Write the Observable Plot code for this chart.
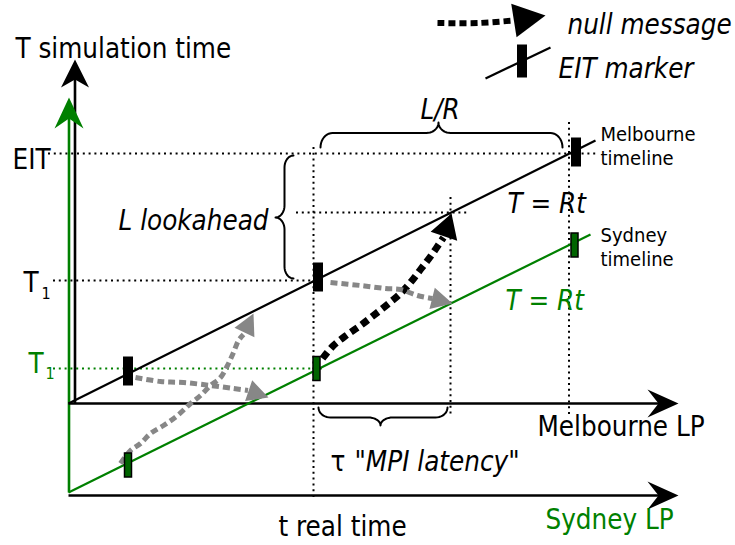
<!DOCTYPE html>
<html><head><meta charset="utf-8">
<script src="https://cdn.jsdelivr.net/npm/d3@7"></script>
<script src="https://cdn.jsdelivr.net/npm/@observablehq/plot@0.6"></script>
<style>body{margin:0;background:#fff;} svg{display:block}</style>
</head><body><div id="chart"></div>
<script>
// ---- data (t = real time, S = simulation time; origin = Melbourne LP origin) ----
const axisName = ["Melbourne T", "Sydney T", "Melbourne LP", "Sydney LP"];
const axisFromT = [6.5, 0.5, 0, 0];
const axisFromS = [0, -89, 0, -92];
const axisTipT = [6.5, 0.5, 610, 610];
const axisTipS = [344, 306, 0, -92];

const timelineName = ["Melbourne", "Sydney"];
const timelineT0 = [0, 0];
const timelineS0 = [0, -89];
const timelineT1 = [527, 522];
const timelineS1 = [263, 169];

const markerLP = ["Melbourne", "Melbourne", "Melbourne", "Sydney", "Sydney", "Sydney"];
const markerT = [60, 250, 508, 60, 248.5, 506.5];
const markerS = [32, 126, 251, -62, 34.5, 158];

// dotted guides
const hGuideName = ["EIT", "T1 Melbourne", "T1 Sydney", "lookahead"];
const hGuideS = [250, 123, 35, 191];
const hGuideFrom = [-20, -15, -15, 228];
const hGuideTo = [529, 245, 257, 399];
const vGuideT = [245, 382, 500.5];
const vGuideFrom = [256, 206, 281];
const vGuideTo = [-95, -12, -12];

// braces: along-axis ends, end level, spine level, cusp (along, level)
const braceName = ["L/R", "L lookahead", "tau"];
const braceA0 = [252, 125, 250];
const braceA1 = [494, 248, 379];
const braceEnd = [256, 225, -4];
const braceSpine = [270.5, 216, -14];
const braceCuspA = [370, 186, 312];
const braceCusp = [281, 207, -22];

// null messages (last point = arrow tip)
const msgBlackT = [254, 265, 279, 292, 305, 319, 332, 342, 352, 362, 375, 383];
const msgBlackS = [45, 58, 69, 78, 88, 99, 110, 121, 134, 147, 166, 190];
const msgGrayAT = [67, 92, 115, 142, 165, 179.5, 200];
const msgGrayAS = [26, 22, 21, 18, 15, 13, 6];
const msgGrayBT = [52, 62, 72, 82, 95, 109, 122, 132, 142, 152, 159, 165, 170, 175, 185];
const msgGrayBS = [-60, -47, -40, -30, -22, -12, 0, 8, 18, 26, 38, 51, 63, 69, 90];
const msgGrayCT = [262, 292, 317, 332, 349, 364, 384];
const msgGrayCS = [121, 118, 115, 114, 108, 105, 100];
const msgLegendT = [369, 410, 445.5, 477];
const msgLegendS = [380.5, 380.5, 383, 388];

// legend EIT marker
const legLineT = [417, 482];
const legLineS = [325, 356];
const legMarkerT = [454];
const legMarkerS = [342];

// labels
const plainText = ["T simulation time", "EIT", "T", "Melbourne LP", "t real time", "τ"];
const plainT = [-53, -56, -45, 469, 210, 262];
const plainS = [346, 235, 112, -32, -132, -67];
const italicText = ["null message", "EIT marker", "L/R", "L lookahead", "T = Rt", "\"MPI latency\""];
const italicT = [499, 490, 352, 50, 439, 286];
const italicS = [370, 326, 285, 174, 191, -67];
const greenText = ["T", "Sydney LP"];
const greenT = [-40, 477];
const greenS = [31, -125];
const greenItalicText = ["T = Rt"];
const greenItalicT = [437];
const greenItalicS = [94];
const smallText = ["Melbourne\ntimeline", "Sydney\ntimeline"];
const smallT = [532, 532];
const smallS = [239, 138];
const subText = ["1", "1"];
const subT = [-27, -23];
const subS = [105, 25];
const subColor = ["black", "green"];

// ---- styles ----
const FONT = "'DejaVu Sans Condensed', 'DejaVu Sans', sans-serif";
const GREEN = "#008000", GRAY = "#878787", DKGREEN = "#006400";
const FS = 27.5;

// ---- helpers ----
function head(id, tip, from, len, hw, notch) {
  const dx = tip[0] - from[0], dy = tip[1] - from[1], L = Math.hypot(dx, dy);
  const ux = dx / L, uy = dy / L, px = -uy, py = ux;
  const bx = tip[0] - ux * len, by = tip[1] - uy * len;
  const nx = tip[0] - ux * (len - notch), ny = tip[1] - uy * (len - notch);
  return [
    {id, t: tip[0], s: tip[1]},
    {id, t: bx + px * hw, s: by + py * hw},
    {id, t: nx, s: ny},
    {id, t: bx - px * hw, s: by - py * hw}
  ];
}
function braceLine(i) {
  const a0 = braceA0[i], a1 = braceA1[i], e = braceEnd[i], f = braceSpine[i], ac = braceCuspA[i], c = braceCusp[i];
  const r = 12, n = 10, pts = [];
  const dir = Math.sign(a1 - a0);
  for (let k = 0; k <= n; k++) { const th = k / n * Math.PI / 2; pts.push([a0 + dir * (r - r * Math.cos(th)), e + (f - e) * Math.sin(th)]); }
  for (let k = 0; k <= n; k++) { const th = k / n * Math.PI / 2; pts.push([ac - dir * r + dir * r * Math.sin(th), c + (f - c) * Math.cos(th)]); }
  for (let k = n; k >= 0; k--) { const th = k / n * Math.PI / 2; pts.push([ac + dir * r - dir * r * Math.sin(th), c + (f - c) * Math.cos(th)]); }
  for (let k = n; k >= 0; k--) { const th = k / n * Math.PI / 2; pts.push([a1 - dir * (r - r * Math.cos(th)), e + (f - e) * Math.sin(th)]); }
  const vertical = braceName[i] === "L lookahead";
  return pts.map(([a, l]) => vertical ? {id: braceName[i], t: l, s: a} : {id: braceName[i], t: a, s: l});
}

// ---- tables ----
const axisSpec = {"Melbourne T": [28, 14, 8], "Sydney T": [31, 14.5, 10], "Melbourne LP": [31, 14, 11], "Sydney LP": [31, 14, 11]};
const axes = axisName.map((name, i) => {
  const [len, hw, notch] = axisSpec[name];
  const tip = [axisTipT[i], axisTipS[i]], from = [axisFromT[i], axisFromS[i]];
  const dx = tip[0] - from[0], dy = tip[1] - from[1], L = Math.hypot(dx, dy);
  const back = len - notch - 2;
  return {name, t0: from[0], s0: from[1], t1: tip[0] - dx / L * back, s1: tip[1] - dy / L * back,
          color: name === "Sydney T" ? GREEN : "black", head: head(name, tip, from, len, hw, notch)};
});
const timelines = timelineName.map((name, i) => ({name, t0: timelineT0[i], s0: timelineS0[i], t1: timelineT1[i], s1: timelineS1[i]}));
const markers = markerLP.map((lp, i) => {
  const w = lp === "Melbourne" ? 10 : 7, h = lp === "Melbourne" ? 29 : 24;
  return {lp, t: markerT[i], s: markerS[i], w, h};
});
const hGuides = hGuideName.map((name, i) => ({name, s: hGuideS[i], t1: hGuideFrom[i], t2: hGuideTo[i]}));
const vGuides = vGuideT.map((t, i) => ({t, s1: vGuideFrom[i], s2: vGuideTo[i]}));
const braces = braceName.flatMap((_, i) => braceLine(i));

function msg(id, T, S) { return T.map((t, i) => ({id, t, s: S[i]})); }
const messages = [
  {id: "black", pts: msg("black", msgBlackT, msgBlackS), color: "black", w: 7, dash: "8,5", len: 24, hw: 14},
  {id: "grayA", pts: msg("grayA", msgGrayAT, msgGrayAS), color: GRAY, w: 5, dash: "7,4", len: 21, hw: 11},
  {id: "grayB", pts: msg("grayB", msgGrayBT, msgGrayBS), color: GRAY, w: 5, dash: "7,4", len: 21, hw: 11},
  {id: "grayC", pts: msg("grayC", msgGrayCT, msgGrayCS), color: GRAY, w: 5, dash: "7,4", len: 21, hw: 11},
  {id: "legend", pts: msg("legend", msgLegendT, msgLegendS), color: "black", w: 6, dash: "7,4", len: 32, hw: 17}
];
const msgMarks = messages.flatMap(m => {
  const body = m.pts.slice(0, -1);
  const tipP = m.pts[m.pts.length - 1], baseP = m.pts[m.pts.length - 2];
  const hd = head(m.id, [tipP.t, tipP.s], [baseP.t, baseP.s], m.len, m.hw, 0);
  return [
    Plot.line(body, {x: "t", y: "s", stroke: m.color, strokeWidth: m.w, strokeDasharray: m.dash, strokeLinecap: "butt", curve: "catmull-rom"}),
    Plot.line(hd, {x: "t", y: "s", fill: m.color, stroke: "none"})
  ];
});

const labels = (text, T, S) => text.map((tx, i) => ({tx, t: T[i], s: S[i]}));
const txt = (data, o) => Plot.text(data, {x: "t", y: "s", text: "tx", textAnchor: "start", lineAnchor: "bottom", fontFamily: FONT, fontSize: FS, ...o});

const chart = Plot.plot({
  width: 735, height: 545,
  marginTop: 0, marginRight: 0, marginBottom: 0, marginLeft: 0,
  x: {domain: [-68, 667], axis: null},
  y: {domain: [-142, 403], axis: null},
  marks: [
    Plot.ruleY(hGuides, {y: "s", x1: "t1", x2: "t2", stroke: d => d.name === "T1 Sydney" ? GREEN : "black", strokeWidth: 2, strokeDasharray: "2,3.8"}),
    Plot.ruleX(vGuides, {x: "t", y1: "s1", y2: "s2", stroke: "black", strokeWidth: 2, strokeDasharray: "2,3.8"}),
    Plot.link(axes, {x1: "t0", y1: "s0", x2: "t1", y2: "s1", stroke: "color", strokeWidth: 2.6, strokeLinecap: "butt"}),
    ...axes.map(a => Plot.line(a.head, {x: "t", y: "s", fill: a.color, stroke: "none"})),
    Plot.link(timelines, {x1: "t0", y1: "s0", x2: "t1", y2: "s1", stroke: d => d.name === "Sydney" ? GREEN : "black", strokeWidth: 2.2}),
    Plot.line(braces, {x: "t", y: "s", z: "id", stroke: "black", strokeWidth: 2, curve: "linear"}),
    ...msgMarks,
    Plot.rect(markers, {x1: d => d.t - d.w / 2, x2: d => d.t + d.w / 2, y1: d => d.s - d.h / 2, y2: d => d.s + d.h / 2,
      fill: d => d.lp === "Sydney" ? DKGREEN : "black", stroke: "black", strokeWidth: d => d.lp === "Sydney" ? 1.5 : 0}),
    Plot.link([0], {x1: legLineT[0], y1: legLineS[0], x2: legLineT[1], y2: legLineS[1], stroke: "black", strokeWidth: 2.2}),
    Plot.rect(legMarkerT.map((t, i) => ({t, s: legMarkerS[i]})), {x1: d => d.t - 5, x2: d => d.t + 5, y1: d => d.s - 16.5, y2: d => d.s + 16.5, fill: "black"}),
    txt(labels(plainText, plainT, plainS), {fill: "black"}),
    txt(labels(italicText, italicT, italicS), {fill: "black", fontStyle: "italic"}),
    txt(labels(greenText, greenT, greenS), {fill: GREEN}),
    txt(labels(greenItalicText, greenItalicT, greenItalicS), {fill: GREEN, fontStyle: "italic"}),
    txt(labels(smallText, smallT, smallS), {fill: "black", fontSize: 20, lineHeight: 1.2}),
    txt(labels(subText, subT, subS).map((d, i) => ({...d, c: subColor[i]})), {fill: d => d.c === "green" ? GREEN : "black", fontSize: 16})
  ]
});
document.getElementById("chart").appendChild(chart);
</script></body></html>
